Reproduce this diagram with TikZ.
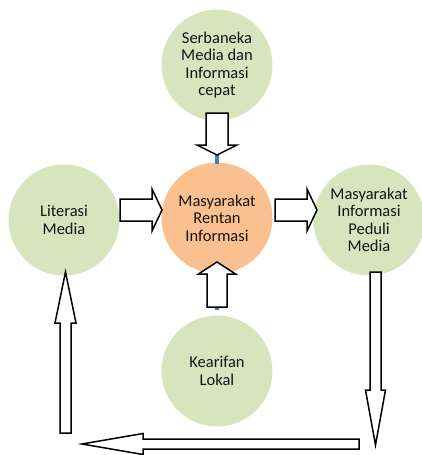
\documentclass[tikz,border=0pt]{standalone}
\usepackage{fontspec}
\setmainfont{Carlito}
\usetikzlibrary{calc}
\definecolor{leaf}{HTML}{D7E4BD}
\definecolor{peach}{HTML}{FAC090}
\definecolor{stubblue}{HTML}{4A7EBB}
\definecolor{ink}{HTML}{141414}
\begin{document}
\begin{tikzpicture}[x=1pt,y=-1pt]
    \tikzset{c/.style={circle,fill=leaf,minimum size=111pt,inner sep=0pt,align=center,text=ink,font=\fontsize{16.5}{17.5}\selectfont}, h/.style={c,fill=peach},
      blk/.style n args={3}{draw=black,line width=1.5pt,fill=white,to path={($(\tikztostart)!#1!90:(\tikztotarget)$) -- ($(\tikztotarget)!#3!(\tikztostart)!#1!-90:(\tikztostart)$) -- ($(\tikztotarget)!#3!(\tikztostart)!#2!-90:(\tikztostart)$) -- (\tikztotarget) -- ($(\tikztotarget)!#3!(\tikztostart)!#2!90:(\tikztostart)$) -- ($(\tikztotarget)!#3!(\tikztostart)!#1!90:(\tikztostart)$) -- ($(\tikztostart)!#1!-90:(\tikztotarget)$) -- cycle}},
      stub/.style={draw=stubblue,line width=4pt}}
    \useasboundingbox (0,0) rectangle (422,455);
    \node[c] (serba) at (217,65) {Serbaneka\\Media dan\\Informasi\\cepat};
    \node[h] (rentan) at (217,218) {Masyarakat\\Rentan\\Informasi};
    \node[c] (literasi) at (64,220) {Literasi\\Media};
    \node[c] (peduli) at (369,220) {Masyarakat\\Informasi\\Peduli\\Media};
    \node[c] (kearifan) at (217,371) {Kearifan\\Lokal};
    % block arrows
    \coordinate (t1) at (217,113); \coordinate (t2) at (217,155); \coordinate (t3) at (217,164);
    \coordinate (l1) at (120,210); \coordinate (l2) at (162,210);
    \coordinate (r1) at (275,210); \coordinate (r2) at (317,210);
    \coordinate (b1) at (217,307); \coordinate (b2) at (217,262); \coordinate (b3) at (217,310);
    \coordinate (u1) at (65.5,433); \coordinate (u2) at (65.5,272);
    \coordinate (d1) at (375.5,272); \coordinate (d2) at (375.5,445);
    \coordinate (w1) at (359,444); \coordinate (w2) at (82,444);
    \draw[stub] (t2)--(t3); \draw[stub] (b1)--(b3);
    \draw[blk={11pt}{20pt}{10pt}] (t1) to (t2);
    \draw[blk={11pt}{21pt}{10pt}] (l1) to (l2); \draw[blk={11pt}{21pt}{10pt}] (r1) to (r2);
    \draw[blk={10pt}{18.5pt}{12pt}] (b1) to (b2);
    \draw[blk={5.5pt}{10.5pt}{51pt}] (u1) to (u2); \draw[blk={5.5pt}{10pt}{55pt}] (d1) to (d2);
    \draw[blk={5pt}{10.5pt}{61pt}] (w1) to (w2);
  \end{tikzpicture}
\end{document}
